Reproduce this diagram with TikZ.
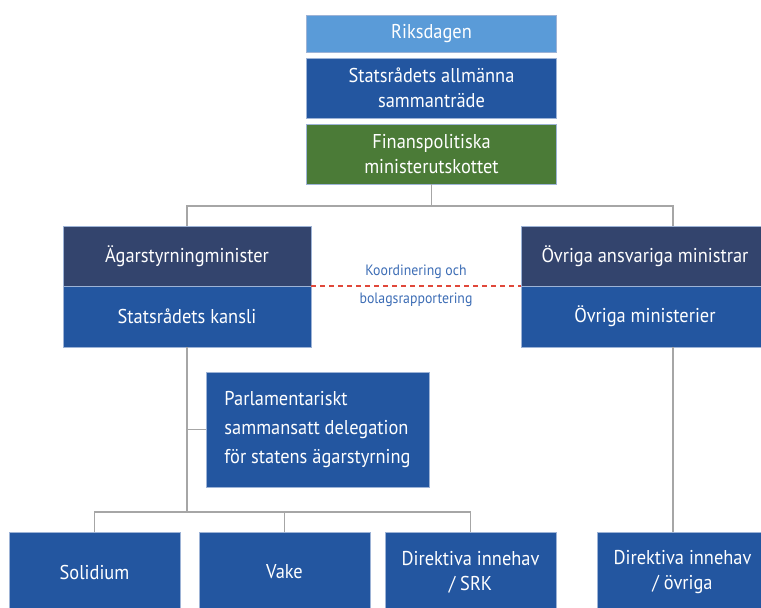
\documentclass[tikz,border=0pt]{standalone}
\usepackage{fontspec}
\setmainfont[FakeStretch=0.92]{PT Sans}
\usepackage{xcolor}
\usepackage{tikz}
\usetikzlibrary{positioning}

\definecolor{riksblue}{HTML}{5A9BD8}
\definecolor{midblue}{HTML}{2356A0}
\definecolor{navyblue}{HTML}{33446D}
\definecolor{finansgreen}{HTML}{4B7B37}
\definecolor{edgeblue}{HTML}{9DB3D6}
\definecolor{linegray}{HTML}{A6A6A6}
\definecolor{dashred}{HTML}{E0483A}
\definecolor{labelblue}{HTML}{3D6DB5}

\begin{document}
\begin{tikzpicture}[x=1pt, y=1pt,
        box/.style={draw=edgeblue, line width=0.6pt, fill=#1, text=white, align=center, inner sep=0pt, outer sep=0pt, font=\fontsize{20}{25}\selectfont},
        box/.default=midblue,
        link/.style={draw=linegray, line width=1.4pt}
    ]
    \clip (0,0) rectangle (761,-608);

    % Regering och riksdag
    \node[box=riksblue, minimum width=250pt, minimum height=37pt] (riks) at (431.5,-33.5) {Riksdagen};
    \node[box, minimum width=250pt, minimum height=60pt, below=6pt of riks] (plenum) {Statsrådets allmänna\\sammanträde};
    \node[box=finansgreen, minimum width=250pt, minimum height=60pt, below=6pt of plenum] (finans) {Finanspolitiska\\ministerutskottet};

    \node[box=navyblue, minimum width=248pt, minimum height=60pt] (agar) at (187,-256) {Ägarstyrningminister};
    \node[box, minimum width=248pt, minimum height=61pt, below=0pt of agar] (kansli) {Statsrådets kansli};
    \node[box=navyblue, minimum width=248pt, minimum height=60pt] (ovr) at (645,-256) {Övriga ansvariga ministrar};
    \node[box, minimum width=248pt, minimum height=61pt, below=0pt of ovr] (ovrmin) {Övriga ministerier};

    \node[box, minimum width=223pt, minimum height=115pt, align=left, font=\fontsize{20}{29}\selectfont] (parl) at (317.5,-429.5) {Parlamentariskt\\sammansatt delegation\\för statens ägarstyrning};

    % Bolag
    \node[box, minimum width=171pt, minimum height=80pt] (sol) at (94.5,-572) {Solidium};
    \node[box, minimum width=171pt, minimum height=80pt] (vake) at (284.5,-572) {Vake};
    \node[box, minimum width=171pt, minimum height=80pt] (srk) at (470.5,-572) {Direktiva innehav\\/ SRK};
    \node[box, minimum width=171pt, minimum height=80pt] (direkt) at (682.5,-572) {Direktiva innehav\\/ övriga};

    % Linjer
    \coordinate (ovrdrop) at (673,-206);
    \coordinate (bus) at (186,-512);
    \draw[link] (finans.south) -- (finans.south |- ovrdrop);
    \draw[link] (agar.north) |- (ovrdrop) -- (ovrdrop |- ovr.north);
    \draw[link] (kansli.south) -- (kansli.south |- bus);
    \draw[link] (kansli.south |- parl.west) -- (parl.west);
    \draw[link] (sol.north) |- (bus) -| (srk.north);
    \draw[link] (vake.north) -- (vake.north |- bus);
    \draw[link] (ovrmin.south -| ovrdrop) -- (direkt.north -| ovrdrop);

    % Koordinering
    \draw[dashred, line width=1.2pt, dash pattern=on 5pt off 4pt] (agar.south east) -- node[above=3pt, text=labelblue, font=\fontsize{15}{17}\selectfont]{Koordinering och} node[below=3pt, text=labelblue, font=\fontsize{15}{17}\selectfont]{bolagsrapportering} (ovr.south west);
\end{tikzpicture}
\end{document}
